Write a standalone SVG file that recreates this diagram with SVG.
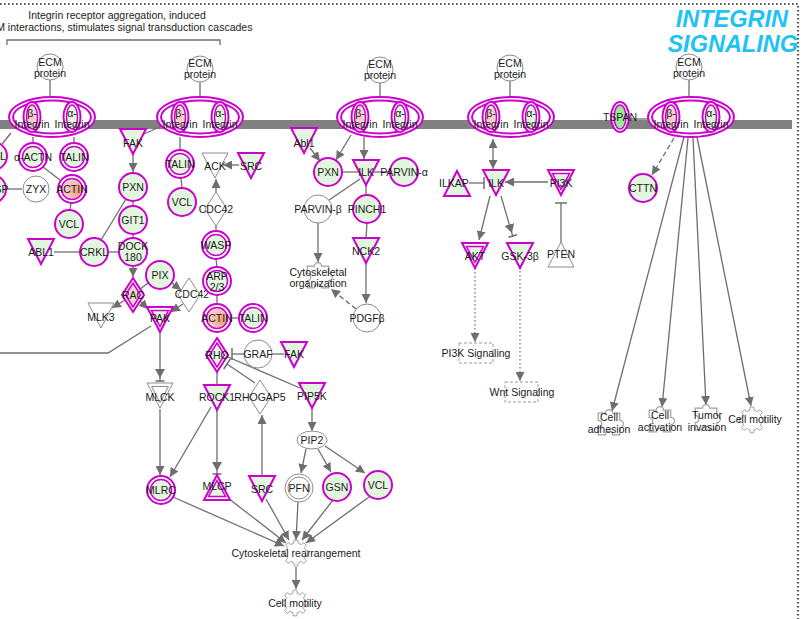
<svg xmlns="http://www.w3.org/2000/svg" width="803" height="619" viewBox="0 0 803 619">
<style>
.ln{stroke:#6e6e6e;stroke-width:1.3;fill:none}
.da{stroke-dasharray:5 3}
.dt{stroke-dasharray:1.5 2.5;stroke-width:1.2}
.t{font-family:"Liberation Sans",Arial,sans-serif;font-size:10.5px;fill:#1a1a1a;text-anchor:middle}
.mg{fill:#e2f5df;stroke:#cc00cc;stroke-width:2}
.mw{fill:#fff;stroke:#cc00cc;stroke-width:2}
.mi{fill:#e2f5df;stroke:#cc00cc;stroke-width:1.5}
.gw{fill:#fff;stroke:#8c8c8c;stroke-width:1}
.fn{fill:#fff;stroke:#a0a0a0;stroke-width:1}
.title{font-family:"Liberation Sans",Arial,sans-serif;font-size:23.5px;font-weight:bold;font-style:italic;fill:#1fc3f3;text-anchor:end}
</style>
<defs>
<radialGradient id="actin" cx="0.75" cy="0.6" r="0.9"><stop offset="0" stop-color="#f0a070"/><stop offset="0.5" stop-color="#f4c2be"/><stop offset="1" stop-color="#f8dede"/></radialGradient>
<radialGradient id="pink" cx="0.5" cy="0.5" r="0.6"><stop offset="0" stop-color="#f4c4c4"/><stop offset="1" stop-color="#fbe4e4"/></radialGradient>
<polygon id="tdown" points="-13,-12 13,-12 0,13"/>
<polygon id="tdown2" points="-8.5,-8.5 8.5,-8.5 0,7.5"/>
<polygon id="tup" points="-13,12 13,12 0,-13"/>
<polygon id="tup2" points="-8.5,8.5 8.5,8.5 0,-7.5"/>
<polygon id="dia" points="0,-17 11,0 0,17 -11,0"/>
<polygon id="dia2" points="0,-12 7.5,0 0,12 -7.5,0"/>
<polygon id="gear" points="9.744,-2.25 12.874,-1.81 12.874,1.81 9.744,2.25 8.48,5.299 10.382,7.823 7.823,10.382 5.299,8.48 2.25,9.744 1.81,12.874 -1.81,12.874 -2.25,9.744 -5.299,8.48 -7.823,10.382 -10.382,7.823 -8.48,5.299 -9.744,2.25 -12.874,1.81 -12.874,-1.81 -9.744,-2.25 -8.48,-5.299 -10.382,-7.823 -7.823,-10.382 -5.299,-8.48 -2.25,-9.744 -1.81,-12.874 1.81,-12.874 2.25,-9.744 5.299,-8.48 7.823,-10.382 10.382,-7.823 8.48,-5.299"/>
<path id="puzzle" d="M-9,-9 H-3 A3,3 0 1 1 3,-9 H9 V-3 A3,3 0 1 1 9,3 V9 H3 A3,3 0 1 0 -3,9 H-9 V3 A3,3 0 1 0 -9,-3 Z"/>
<marker id="arr" viewBox="0 0 10 10" refX="10" refY="5" markerWidth="9" markerHeight="9" markerUnits="userSpaceOnUse" orient="auto-start-reverse"><path d="M0,0 L10,5 L0,10 z" fill="#6e6e6e"/></marker>
<marker id="bar" viewBox="0 0 4 12" refX="2" refY="6" markerWidth="4" markerHeight="12" markerUnits="userSpaceOnUse" orient="auto"><path d="M2,0 V12" stroke="#6e6e6e" stroke-width="1.5"/></marker>
<marker id="arrbar" viewBox="0 0 14 10" refX="13" refY="5" markerWidth="14" markerHeight="10" markerUnits="userSpaceOnUse" orient="auto"><path d="M0,0 L9,5 L0,10 z" fill="#6e6e6e"/><path d="M12,0.5 V9.5" stroke="#6e6e6e" stroke-width="1.5"/></marker>
</defs>

<rect width="803" height="619" fill="#fff"/>
<path d="M0,4 H798 V619" fill="none" stroke="#555" stroke-width="2.2" stroke-dasharray="1.6 2.4"/>

<g id="title">
<text class="title" x="788" y="27">INTEGRIN</text>
<text class="title" x="798" y="52">SIGNALING</text>
</g>

<g id="bracket">
<path d="M7,45 V40 H220 V45" class="ln" stroke="#666"/>
<text class="t" x="117" y="19">Integrin receptor aggregation, induced</text>
<text class="t" x="117" y="31">ECM interactions, stimulates signal transduction cascades</text>
</g>

<rect id="membrane" x="0" y="120" width="792" height="9" fill="#808080"/>

<g id="edges">
<path class="ln" d="M50,80 V97"/>
<path class="ln" d="M200,82 V97"/>
<path class="ln" d="M380,83 V97"/>
<path class="ln" d="M510,81 V97"/>
<path class="ln" d="M689,80 V97"/>
<path class="ln" marker-end="url(#arr)" d="M133,154 L133,172"/>
<path class="ln" marker-end="url(#arr)" d="M133,266 L133,277"/>
<path class="ln" marker-end="url(#arr)" d="M125,300 L112,308"/>
<path class="ln" marker-end="url(#arr)" d="M140,301 L148,309"/>
<path class="ln" d="M148,283 L139,290"/>
<path class="ln" marker-end="url(#arr)" d="M172,283 L181,290"/>
<path class="ln" marker-end="url(#arr)" d="M183,304 L171,312"/>
<path class="ln" marker-end="url(#arrbar)" d="M160,333 L160,382"/>
<path class="ln" marker-end="url(#arr)" d="M160,409 L160,475"/>
<path class="ln" marker-end="url(#arr)" d="M211,407 L170,477"/>
<path class="ln" marker-end="url(#arrbar)" d="M217,410 L217,475"/>
<path class="ln" marker-end="url(#arr)" d="M262,476 L262,415"/>
<path class="ln" marker-end="url(#bar)" d="M255,383 L227,364"/>
<path class="ln" d="M228,357 L300,388"/>
<path class="ln" marker-end="url(#arr)" d="M312,408 L312,431"/>
<path class="ln" marker-end="url(#arr)" d="M306,449 L301,473"/>
<path class="ln" marker-end="url(#arr)" d="M318,449 L331,472"/>
<path class="ln" marker-end="url(#arr)" d="M325,446 L365,473"/>
<path class="ln" marker-end="url(#arr)" d="M173,497 L284,546"/>
<path class="ln" marker-end="url(#arr)" d="M228,498 L286,543"/>
<path class="ln" marker-end="url(#arr)" d="M266,499 L289,540"/>
<path class="ln" marker-end="url(#arr)" d="M298,502 L296,540"/>
<path class="ln" marker-end="url(#arr)" d="M333,500 L302,540"/>
<path class="ln" marker-end="url(#arr)" d="M369,497 L306,543"/>
<path class="ln" marker-end="url(#arr)" d="M296,567 L296,589"/>
<path class="ln" marker-end="url(#bar)" d="M244,354 L232,354"/>
<path class="ln" d="M272,354 L284,354"/>
<path class="ln" d="M217,372 L217,385"/>
<path class="ln" d="M231,318 L239,318"/>
<path class="ln" d="M217,295 L217,304"/>
<path class="ln" d="M216,259 L217,267"/>
<path class="ln" d="M216,226 L216,231"/>
<path class="ln" marker-end="url(#arr)" d="M216,192 L216,179"/>
<path class="ln" marker-end="url(#arr)" d="M239,165 L223,165"/>
<path class="ln" d="M180,137 L180,150"/>
<path class="ln" d="M181,178 L182,188"/>
<path class="ln" d="M144,134 L162,126"/>
<path class="ln" d="M133,201 L133,206"/>
<path class="ln" d="M133,234 L133,238"/>
<path class="ln" d="M126,199 L101,240"/>
<path class="ln" d="M108,252 L119,252"/>
<path class="ln" d="M54,252 L80,252"/>
<path class="ln" d="M151,326 L108,353 L0,353"/>
<path class="ln" d="M11,133 L2,144"/>
<path class="ln" d="M33,137 L33,143"/>
<path class="ln" d="M74,137 L74,143"/>
<path class="ln" d="M43,167 L60,180"/>
<path class="ln" d="M6,189 L22,189"/>
<path class="ln" d="M71,203 L70,210"/>
<path class="ln" marker-end="url(#arr)" d="M310,148 L320,161"/>
<path class="ln" marker-end="url(#arr)" d="M351,135 L336,160"/>
<path class="ln" marker-end="url(#arr)" d="M364,137 L364,159"/>
<path class="ln" d="M342,172 L359,172"/>
<path class="ln" d="M373,172 L390,172"/>
<path class="ln" d="M360,179 L329,200"/>
<path class="ln" d="M366,185 L366,195"/>
<path class="ln" d="M367,223 L366,238"/>
<path class="ln" marker-end="url(#arr)" d="M366,263 L366,303"/>
<path class="ln" marker-end="url(#arr)" d="M318,223 L318,262"/>
<path class="ln da" marker-end="url(#arr)" d="M356,309 L331,289"/>
<path class="ln" marker-start="url(#arr)" marker-end="url(#arr)" d="M493,139 L493,169"/>
<path class="ln" marker-end="url(#bar)" d="M469,183 L484,183"/>
<path class="ln" marker-end="url(#arr)" d="M548,182 L505,182"/>
<path class="ln" marker-end="url(#bar)" d="M561,242 L561,203"/>
<path class="ln" marker-end="url(#arr)" d="M490,196 L479,240"/>
<path class="ln" marker-end="url(#arrbar)" d="M501,196 L513,237"/>
<path class="ln dt" marker-end="url(#arr)" d="M475,268 L475,342"/>
<path class="ln dt" marker-end="url(#arr)" d="M520,267 L520,381"/>
<path class="ln" d="M629,119 L649,119"/>
<path class="ln da" marker-end="url(#arr)" d="M674,138 L652,175"/>
<path class="ln" marker-end="url(#arr)" d="M684,137 L612,411"/>
<path class="ln" marker-end="url(#arr)" d="M688,138 L662,407"/>
<path class="ln" marker-end="url(#arr)" d="M693,138 L706,405"/>
<path class="ln" marker-end="url(#arr)" d="M697,137 L751,406"/>
</g>

<g id="ecm-1"><circle cx="50" cy="67" r="13" class="gw"/><text class="t" x="50" y="66">ECM</text><text class="t" x="50" y="77">protein</text></g>
<g id="ecm-2"><circle cx="200" cy="69" r="13" class="gw"/><text class="t" x="200" y="67">ECM</text><text class="t" x="200" y="78">protein</text></g>
<g id="ecm-3"><circle cx="380" cy="70" r="13" class="gw"/><text class="t" x="380" y="68">ECM</text><text class="t" x="380" y="79">protein</text></g>
<g id="ecm-4"><circle cx="510" cy="68" r="13" class="gw"/><text class="t" x="510" y="67">ECM</text><text class="t" x="510" y="78">protein</text></g>
<g id="ecm-5"><circle cx="689" cy="67" r="13" class="gw"/><text class="t" x="689" y="66">ECM</text><text class="t" x="689" y="77">protein</text></g>

<g id="integrin-1" transform="translate(52,117)">
<ellipse rx="43" ry="20" class="mw"/><ellipse rx="39" ry="16.5" fill="none" stroke="#cc00cc" stroke-width="2"/>
<ellipse cx="-20" rx="8.5" ry="15" class="mw"/><ellipse cx="-20" rx="5.5" ry="12" fill="url(#pink)" stroke="#cc00cc" stroke-width="1.5"/>
<ellipse cx="20" rx="8.5" ry="15" class="mw"/><ellipse cx="20" rx="5.5" ry="12" class="mi"/>
<text class="t" x="-20" y="0">β-</text><text class="t" x="-20" y="11">Integrin</text>
<text class="t" x="20" y="0">α-</text><text class="t" x="20" y="11">Integrin</text>
</g>
<g id="integrin-2" transform="translate(200,117)">
<ellipse rx="43" ry="20" class="mw"/><ellipse rx="39" ry="16.5" fill="none" stroke="#cc00cc" stroke-width="2"/>
<ellipse cx="-20" rx="8.5" ry="15" class="mw"/><ellipse cx="-20" rx="5.5" ry="12" fill="url(#pink)" stroke="#cc00cc" stroke-width="1.5"/>
<ellipse cx="20" rx="8.5" ry="15" class="mw"/><ellipse cx="20" rx="5.5" ry="12" class="mi"/>
<text class="t" x="-20" y="0">β-</text><text class="t" x="-20" y="11">Integrin</text>
<text class="t" x="20" y="0">α-</text><text class="t" x="20" y="11">Integrin</text>
</g>
<g id="integrin-3" transform="translate(380,117)">
<ellipse rx="43" ry="20" class="mw"/><ellipse rx="39" ry="16.5" fill="none" stroke="#cc00cc" stroke-width="2"/>
<ellipse cx="-20" rx="8.5" ry="15" class="mw"/><ellipse cx="-20" rx="5.5" ry="12" fill="url(#pink)" stroke="#cc00cc" stroke-width="1.5"/>
<ellipse cx="20" rx="8.5" ry="15" class="mw"/><ellipse cx="20" rx="5.5" ry="12" class="mi"/>
<text class="t" x="-20" y="0">β-</text><text class="t" x="-20" y="11">Integrin</text>
<text class="t" x="20" y="0">α-</text><text class="t" x="20" y="11">Integrin</text>
</g>
<g id="integrin-4" transform="translate(511,117)">
<ellipse rx="43" ry="20" class="mw"/><ellipse rx="39" ry="16.5" fill="none" stroke="#cc00cc" stroke-width="2"/>
<ellipse cx="-20" rx="8.5" ry="15" class="mw"/><ellipse cx="-20" rx="5.5" ry="12" fill="url(#pink)" stroke="#cc00cc" stroke-width="1.5"/>
<ellipse cx="20" rx="8.5" ry="15" class="mw"/><ellipse cx="20" rx="5.5" ry="12" class="mi"/>
<text class="t" x="-20" y="0">β-</text><text class="t" x="-20" y="11">Integrin</text>
<text class="t" x="20" y="0">α-</text><text class="t" x="20" y="11">Integrin</text>
</g>
<g id="integrin-5" transform="translate(691,117)">
<ellipse rx="43" ry="20" class="mw"/><ellipse rx="39" ry="16.5" fill="none" stroke="#cc00cc" stroke-width="2"/>
<ellipse cx="-20" rx="8.5" ry="15" class="mw"/><ellipse cx="-20" rx="5.5" ry="12" fill="url(#pink)" stroke="#cc00cc" stroke-width="1.5"/>
<ellipse cx="20" rx="8.5" ry="15" class="mw"/><ellipse cx="20" rx="5.5" ry="12" class="mi"/>
<text class="t" x="-20" y="0">β-</text><text class="t" x="-20" y="11">Integrin</text>
<text class="t" x="20" y="0">α-</text><text class="t" x="20" y="11">Integrin</text>
</g>
<g id="tspan"><ellipse cx="620" cy="117" rx="9" ry="15" class="mw"/><ellipse cx="620" cy="117" rx="6" ry="12" fill="#9ee89a" stroke="#cc00cc" stroke-width="1.5"/><text class="t" x="620" y="121">TSPAN</text></g>

<g id="n-l"><circle cx="-7" cy="156" r="14" class="mg"/><text class="t" x="3" y="160">L</text></g>
<g id="n-aactn"><circle cx="33" cy="157" r="14" class="mw"/><circle cx="33" cy="157" r="10.5" class="mi"/><text class="t" x="33" y="161">α-ACTN</text></g>
<g id="n-talin1"><circle cx="74" cy="157" r="14" class="mw"/><circle cx="74" cy="157" r="10.5" class="mi"/><text class="t" x="74" y="161">TALIN</text></g>
<g id="n-sp"><circle cx="-8" cy="189" r="14" class="mg"/><text class="t" x="8.5" y="193" style="text-anchor:end">SP</text></g>
<g id="n-zyx"><circle cx="36" cy="189" r="13" class="gw"/><text class="t" x="36" y="193">ZYX</text></g>
<g id="n-actin1"><circle cx="72" cy="189" r="14" class="mw"/><circle cx="72" cy="189" r="10.5" fill="url(#actin)" stroke="#cc00cc" stroke-width="1.5"/><text class="t" x="72" y="193">ACTIN</text></g>
<g id="n-vcl1"><circle cx="69" cy="224" r="14" class="mg"/><text class="t" x="69" y="228">VCL</text></g>
<g id="n-abl1" transform="translate(41,251)"><use href="#tdown" class="mg"/><text class="t" y="5">ABL1</text></g>
<g id="n-crkl"><circle cx="94" cy="252" r="14" class="mg"/><text class="t" x="94" y="256">CRKL</text></g>
<g id="n-dock180"><circle cx="133" cy="252" r="14" class="mg"/><text class="t" x="133" y="250">DOCK</text><text class="t" x="133" y="261">180</text></g>
<g id="n-git1"><circle cx="133" cy="220" r="14" class="mg"/><text class="t" x="133" y="224">GIT1</text></g>
<g id="n-pxn1"><circle cx="133" cy="187" r="14" class="mg"/><text class="t" x="133" y="191">PXN</text></g>
<g id="n-fak1" transform="translate(133,141)"><use href="#tdown" class="mg"/><text class="t" y="6">FAK</text></g>
<g id="n-rac" transform="translate(133,295)"><use href="#dia" class="mw"/><use href="#dia2" fill="#f6d2d2" stroke="#cc00cc" stroke-width="1.5"/><text class="t" y="4">RAC</text></g>
<g id="n-pix"><circle cx="160" cy="275" r="14" class="mg"/><text class="t" x="160" y="279">PIX</text></g>
<g id="n-cdc42b" transform="translate(189,295)"><use href="#dia" class="gw"/><text class="t" x="3" y="3">CDC42</text></g>
<g id="n-mlk3" transform="translate(101,315)"><use href="#tdown" class="gw"/><text class="t" y="6">MLK3</text></g>
<g id="n-pak" transform="translate(160,319)"><use href="#tdown" class="mw"/><use href="#tdown2" class="mi"/><text class="t" y="3">PAK</text></g>
<g id="n-mlck" transform="translate(160,395)"><use href="#tdown" class="gw"/><use href="#tdown2" class="gw"/><text class="t" y="6">MLCK</text></g>

<g id="n-talin2"><circle cx="180" cy="164" r="14" class="mw"/><circle cx="180" cy="164" r="10.5" class="mi"/><text class="t" x="180" y="168">TALIN</text></g>
<g id="n-vcl2"><circle cx="182" cy="202" r="14" class="mg"/><text class="t" x="182" y="206">VCL</text></g>
<g id="n-ack" transform="translate(215,165)"><use href="#tdown" class="gw"/><text class="t" y="5">ACK</text></g>
<g id="n-src1" transform="translate(251,165)"><use href="#tdown" class="mg"/><text class="t" y="5">SRC</text></g>
<g id="n-cdc42a" transform="translate(216,209)"><use href="#dia" class="gw"/><text class="t" y="4">CDC42</text></g>
<g id="n-wasp"><circle cx="216" cy="245" r="14" class="mw"/><circle cx="216" cy="245" r="10.5" class="mi"/><text class="t" x="216" y="249">WASP</text></g>
<g id="n-arp"><circle cx="217" cy="281" r="14" class="mw"/><circle cx="217" cy="281" r="10.5" class="mi"/><text class="t" x="217" y="280">ARP</text><text class="t" x="217" y="291">2/3</text></g>
<g id="n-actin2"><circle cx="217" cy="318" r="14" class="mw"/><circle cx="217" cy="318" r="10.5" fill="url(#actin)" stroke="#cc00cc" stroke-width="1.5"/><text class="t" x="217" y="322">ACTIN</text></g>
<g id="n-talin3"><circle cx="253" cy="318" r="14" class="mw"/><circle cx="253" cy="318" r="10.5" class="mi"/><text class="t" x="253" y="322">TALIN</text></g>
<g id="n-rho" transform="translate(217,355)"><use href="#dia" class="mw"/><use href="#dia2" class="mi"/><text class="t" y="4">RHO</text></g>
<g id="n-graf"><circle cx="258" cy="354" r="14" class="gw"/><text class="t" x="258" y="358">GRAF</text></g>
<g id="n-fak2" transform="translate(294,354)"><use href="#tdown" class="mg"/><text class="t" y="4">FAK</text></g>
<g id="n-rock1" transform="translate(217,397)"><use href="#tdown" class="mg"/><text class="t" y="4">ROCK1</text></g>
<g id="n-rhogap5" transform="translate(260,397)"><use href="#dia" class="gw"/><text class="t" y="4">RHOGAP5</text></g>
<g id="n-pip5k" transform="translate(312,395)"><use href="#tdown" class="mg"/><text class="t" y="5">PIP5K</text></g>
<g id="n-pip2"><ellipse cx="312" cy="440" rx="15" ry="9" class="gw"/><text class="t" x="312" y="444">PIP2</text></g>
<g id="n-pfn"><circle cx="299" cy="488" r="14" class="gw"/><circle cx="299" cy="488" r="11" class="gw"/><text class="t" x="299" y="492">PFN</text></g>
<g id="n-gsn"><circle cx="337" cy="487" r="14" class="mg"/><text class="t" x="337" y="491">GSN</text></g>
<g id="n-vcl3"><circle cx="378" cy="485" r="14" class="mg"/><text class="t" x="378" y="489">VCL</text></g>
<g id="n-src2" transform="translate(262,488)"><use href="#tdown" class="mg"/><text class="t" y="5">SRC</text></g>
<g id="n-mlcp" transform="translate(217,488)"><use href="#tup" class="mw"/><use href="#tup2" class="mi"/><text class="t" y="2">MLCP</text></g>
<g id="n-mlrc"><circle cx="161" cy="490" r="14" class="mw"/><circle cx="161" cy="490" r="10.5" class="mi"/><text class="t" x="161" y="494">MLRC</text></g>
<g id="n-cyto-rearr"><use href="#gear" x="296" y="553" class="fn"/><text class="t" x="296" y="557">Cytoskeletal rearrangement</text></g>
<g id="n-cellmot1"><use href="#gear" x="295" y="603" class="fn"/><text class="t" x="295" y="607">Cell motility</text></g>

<g id="n-abl1b" transform="translate(304,140)"><use href="#tdown" class="mg"/><text class="t" y="7">Abl1</text></g>
<g id="n-pxn2"><circle cx="328" cy="172" r="14" class="mg"/><text class="t" x="328" y="176">PXN</text></g>
<g id="n-ilk1" transform="translate(366,172)"><use href="#tdown" class="mg"/><text class="t" y="4">ILK</text></g>
<g id="n-parvina"><circle cx="404" cy="172" r="14" class="mg"/><text class="t" x="404" y="176">PARVIN-α</text></g>
<g id="n-parvinb"><circle cx="318" cy="209" r="14" class="gw"/><text class="t" x="318" y="213">PARVIN-β</text></g>
<g id="n-pinch1"><circle cx="367" cy="209" r="14" class="mg"/><text class="t" x="367" y="213">PINCH1</text></g>
<g id="n-nck2" transform="translate(366,250)"><use href="#tdown" class="mg"/><text class="t" y="5">NCK2</text></g>
<g id="n-pdgfb"><circle cx="367" cy="318" r="14" class="gw"/><text class="t" x="367" y="322">PDGFβ</text></g>
<g id="n-cyto-org"><use href="#puzzle" transform="translate(318,277) scale(1.2)" class="fn"/><text class="t" x="318" y="276">Cytoskeletal</text><text class="t" x="318" y="287">organization</text></g>

<g id="n-ilk2" transform="translate(496,182)"><use href="#tdown" class="mg"/><text class="t" y="5">ILK</text></g>
<g id="n-ilkap" transform="translate(457,184)"><use href="#tup" class="mg"/><text class="t" x="-3" y="3">ILKAP</text></g>
<g id="n-pi3k" transform="translate(561,182)"><use href="#tdown" class="mw"/><use href="#tdown2" class="mi"/><text class="t" y="5">PI3K</text></g>
<g id="n-pten" transform="translate(561,255)"><use href="#tup" class="gw"/><text class="t" y="3">PTEN</text></g>
<g id="n-akt" transform="translate(475,255)"><use href="#tdown" class="mw"/><use href="#tdown2" class="mi"/><text class="t" y="5">AKT</text></g>
<g id="n-gsk3b" transform="translate(520,255)"><use href="#tdown" class="mg"/><text class="t" y="5">GSK-3β</text></g>
<g id="n-pi3ksig"><rect x="459" y="343" width="34" height="20" fill="#fff" stroke="#999" stroke-dasharray="3 2"/><text class="t" x="476" y="357">PI3K Signaling</text></g>
<g id="n-wntsig"><rect x="505" y="382" width="33" height="20" fill="#fff" stroke="#999" stroke-dasharray="3 2"/><text class="t" x="522" y="396">Wnt Signaling</text></g>

<g id="n-cttn"><circle cx="643" cy="188" r="14" class="mg"/><text class="t" x="643" y="192">CTTN</text></g>
<g id="n-celladh"><use href="#puzzle" transform="translate(609,424) scale(1.2)" class="fn"/><text class="t" x="609" y="421">Cell</text><text class="t" x="609" y="433">adhesion</text></g>
<g id="n-cellact"><use href="#puzzle" transform="translate(660,421) scale(1.2)" class="fn"/><text class="t" x="660" y="419">Cell</text><text class="t" x="660" y="431">activation</text></g>
<g id="n-tumor"><use href="#puzzle" transform="translate(706,419) scale(1.2)" class="fn"/><text class="t" x="707" y="419">Tumor</text><text class="t" x="707" y="431">invasion</text></g>
<g id="n-cellmot2"><use href="#gear" x="752" y="420" class="fn"/><text class="t" x="755" y="423">Cell motility</text></g>
</svg>
